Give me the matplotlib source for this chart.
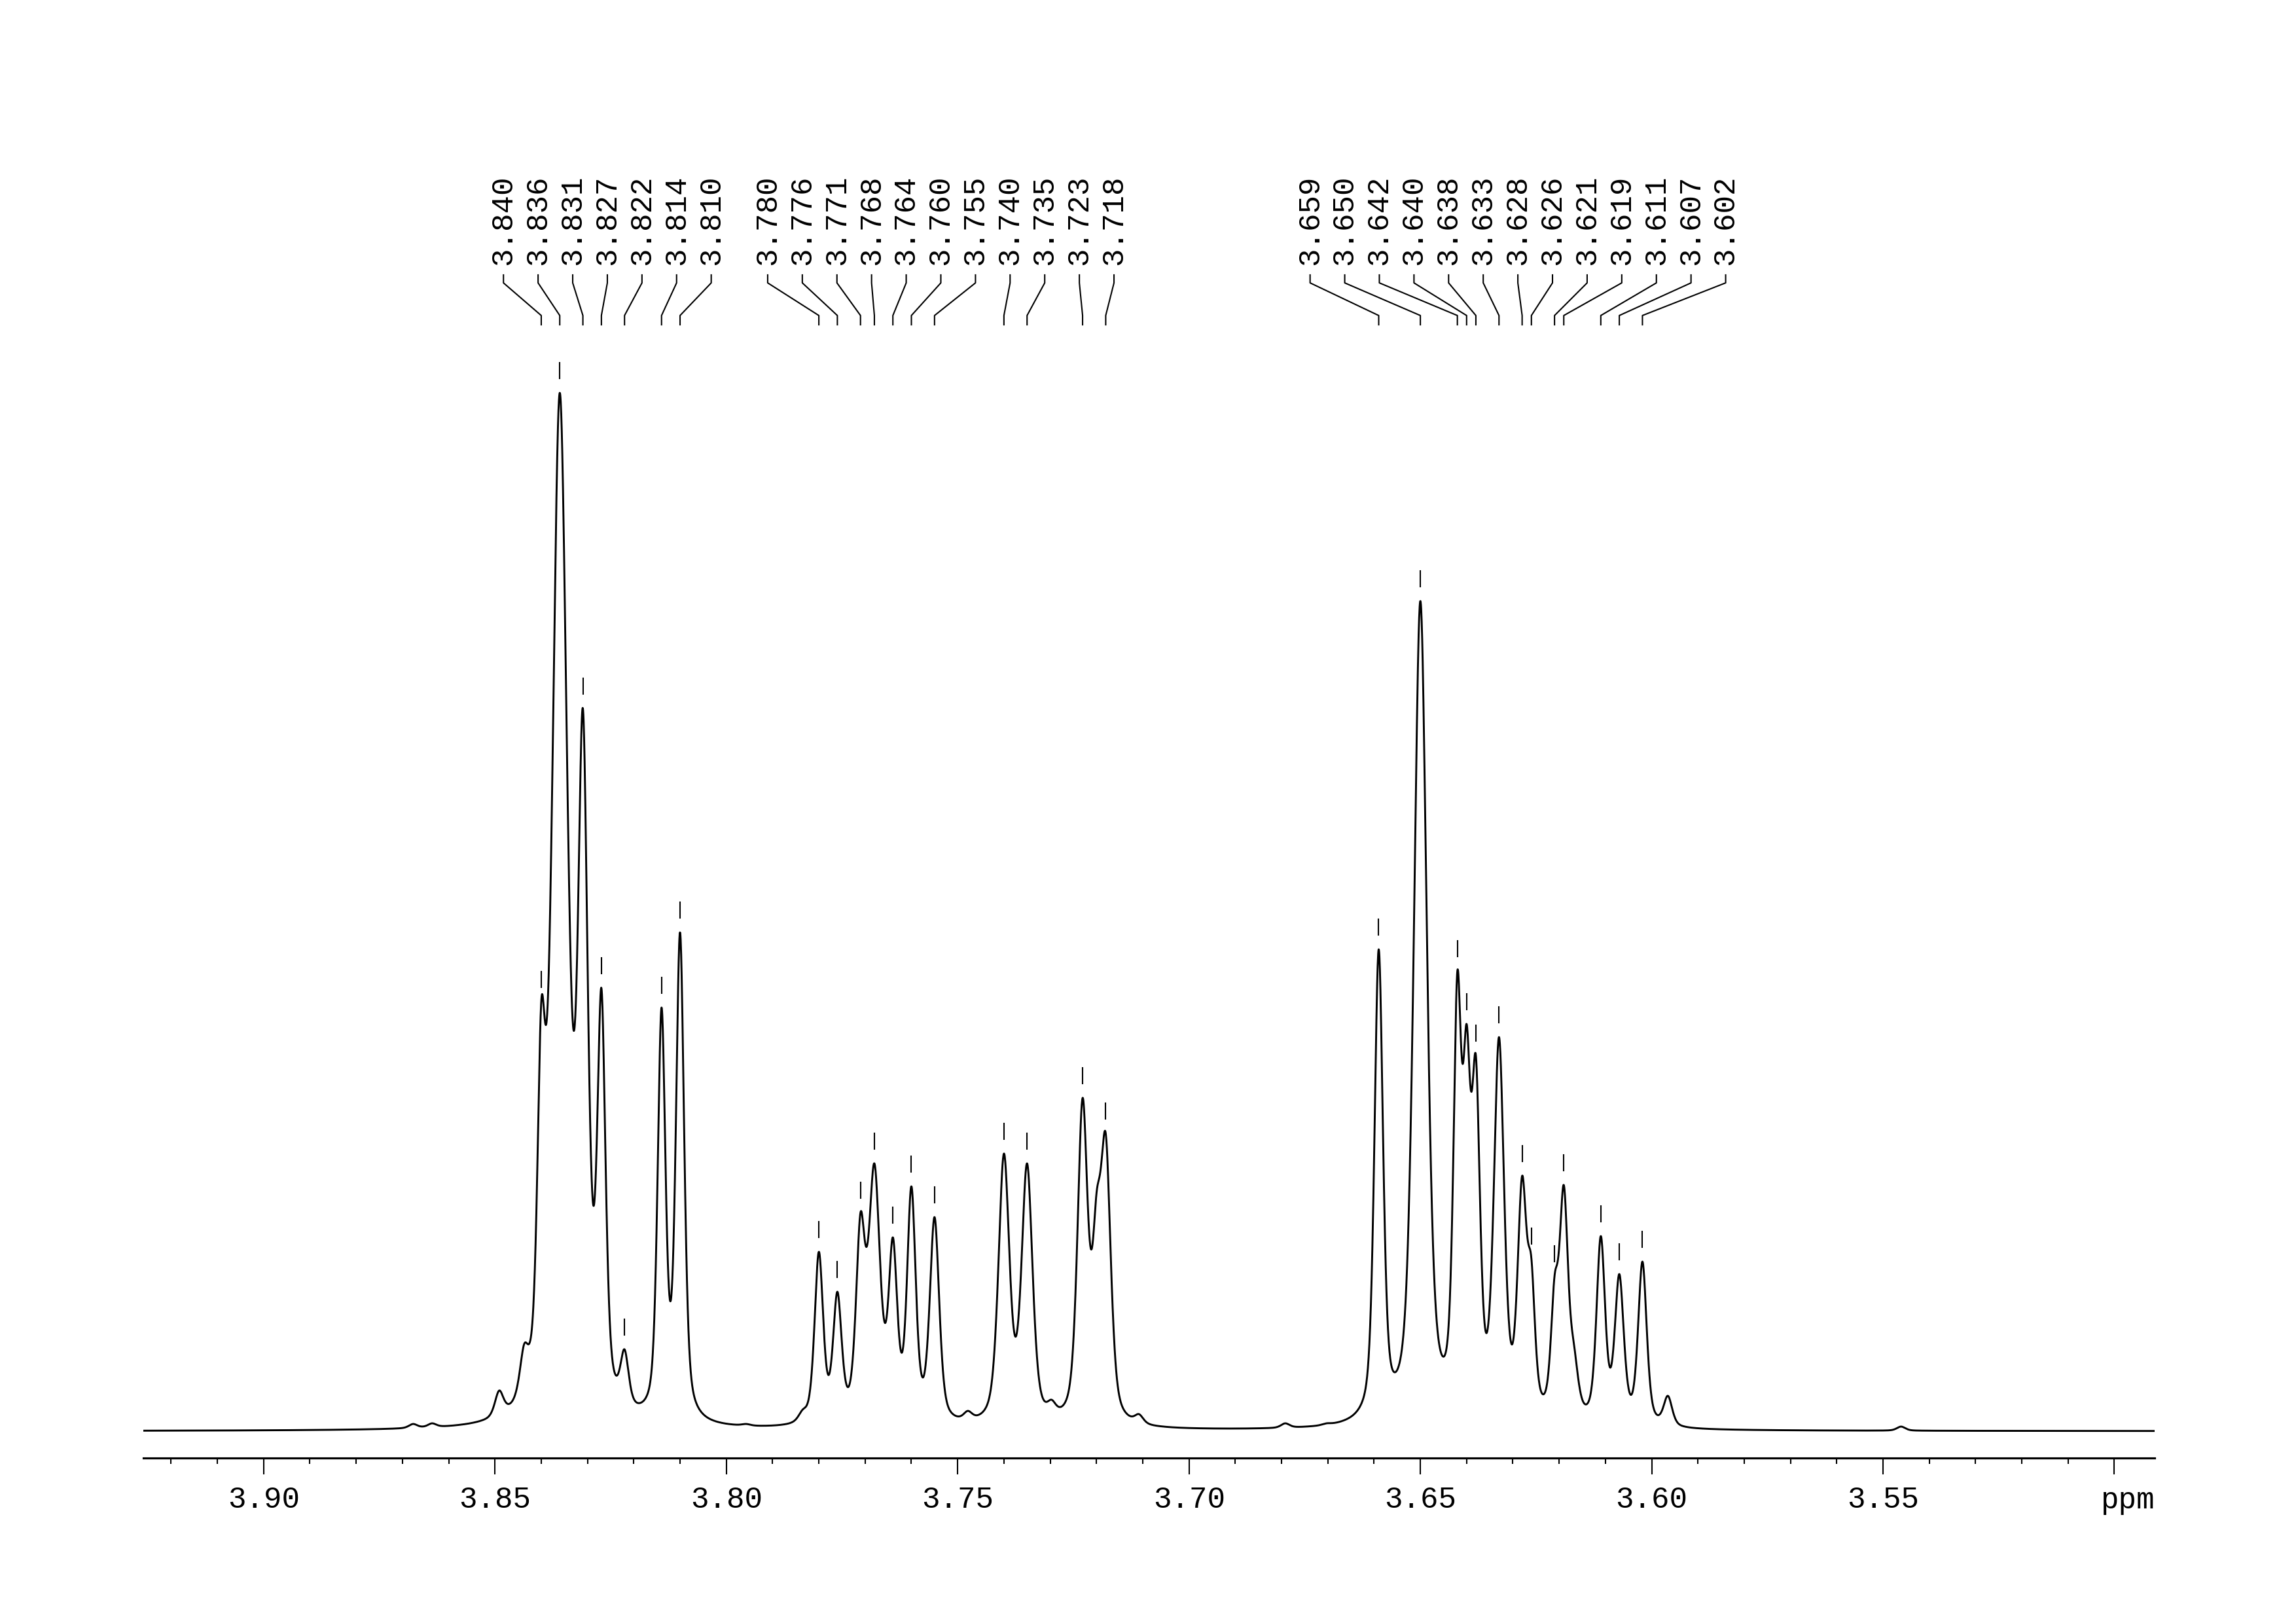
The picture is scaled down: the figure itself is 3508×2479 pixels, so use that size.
import numpy as np
import matplotlib.pyplot as plt
from matplotlib import transforms

plt.rcParams['font.family'] = ['Liberation Mono', 'DejaVu Sans Mono']

# picked peaks (ppm), one list per label block above the trace
group1 = [3.840, 3.836, 3.831, 3.827, 3.822, 3.814, 3.810]
group2 = [3.780, 3.776, 3.771, 3.768, 3.764, 3.760, 3.755, 3.740, 3.735, 3.723, 3.718]
group3 = [3.659, 3.650, 3.642, 3.640, 3.638, 3.633, 3.628, 3.626, 3.621, 3.619,
          3.611, 3.607, 3.602]

# apex heights (arbitrary units, baseline = 0)
height1 = [653, 1583, 1101, 674, 122, 644, 759]
height2 = [271, 210, 331, 406, 293, 371, 324, 421, 406, 506, 452]
height3 = [733, 1265, 700, 619, 571, 599, 387, 261, 234, 373, 295, 237, 256]

# line widths (ppm, FWHM)
width1 = [0.0020, 0.0039, 0.0025, 0.0021, 0.0021, 0.0020, 0.0021]
width2 = [0.0022, 0.0022, 0.0023, 0.0029, 0.0022, 0.0022, 0.0024, 0.0028, 0.0028, 0.0026, 0.0026]
width3 = [0.0022, 0.0033, 0.0020, 0.0019, 0.0021, 0.0026, 0.0023, 0.0019, 0.0019, 0.0022,
          0.0022, 0.0023, 0.0022]

# small unlabelled lines and shoulders
minor_ppm = [3.8677, 3.8636, 3.8491, 3.8437, 3.7957, 3.7835, 3.7478, 3.7297, 3.7200,
             3.7108, 3.7049, 3.6792, 3.6703, 3.6168, 3.5965, 3.5461]
minor_height = [8, 9, 59, 130, 8, 30, 28, 45, 360, 23, 3, 9, 9, 130, 51, 4]

baseline = -3.0


def lineshape(x, x0, w, eta=0.5):
    d = (x - x0) / (w / 2)
    return eta / (1 + d ** 2) + (1 - eta) * np.exp(-np.log(2) * d ** 2)


groups = [group1, group2, group3]
pos = np.array(group1 + group2 + group3 + minor_ppm)
target = np.array(height1 + height2 + height3 + minor_height, float) - baseline
wid = np.array(width1 + width2 + width3 + [0.0022] * len(minor_ppm))

# amplitudes so that the summed trace hits the read heights
M = lineshape(pos[:, None], pos[None, :], wid[None, :])
amp = target.copy()
for _ in range(1500):
    amp *= target / (M @ amp)

x = np.linspace(3.926, 3.4913, 8000)
y = baseline + (amp[None, :] * lineshape(x[:, None], pos[None, :], wid[None, :])).sum(axis=1)

fig = plt.figure(figsize=(3508 / 300, 2479 / 300), dpi=300)
ax = fig.add_axes([219 / 3508, 252 / 2479, (3292 - 219) / 3508, 1977 / 2479])
ax.plot(x, y, color='black', lw=0.7)
ax.set_xlim(3.926, 3.4913)
ax.set_ylim(-44, 1933)

for s in ['top', 'left', 'right']:
    ax.spines[s].set_visible(False)
ax.spines['bottom'].set_linewidth(0.75)
ax.set_yticks([])
major = np.round(np.arange(3.50, 3.901, 0.05), 2)
ax.set_xticks(major)
ax.set_xticklabels(['' if abs(v - 3.50) < 1e-6 else f'{v:.2f}' for v in major])
ax.set_xticks(np.round(np.arange(3.50, 3.925, 0.01), 2), minor=True)
ax.tick_params(axis='x', which='major', length=6, width=0.5, pad=4, labelsize=11)
ax.tick_params(axis='x', which='minor', length=2.1, width=0.5)
xa = transforms.blended_transform_factory(ax.transData, ax.transAxes)
ax.text(3.4913, -0.039, 'ppm', ha='right', va='baseline', fontsize=11, transform=xa)

# peak markers and labels
trans = transforms.blended_transform_factory(ax.transData, fig.transFigure)
spacing = 52.9 / 7068
for g in groups:
    g = sorted(g, reverse=True)
    n = len(g)
    centre = np.mean(g)
    for k, p in enumerate(g):
        lx = centre + ((n - 1) / 2 - k) * spacing
        top = np.interp(p, x[::-1], y[::-1])
        ax.plot([p, p], [top + 22, top + 46], color='black', lw=0.5)
        ax.plot([lx, lx, p, p], [0.8306, 0.8257, 0.8056, 0.7999], color='black',
                lw=0.5, transform=trans, clip_on=False)
        ax.text(lx, 0.8365, f'{p:.3f}', rotation=90, ha='center', va='bottom',
                fontsize=11, transform=trans)

fig.savefig('out.png', dpi=300)
